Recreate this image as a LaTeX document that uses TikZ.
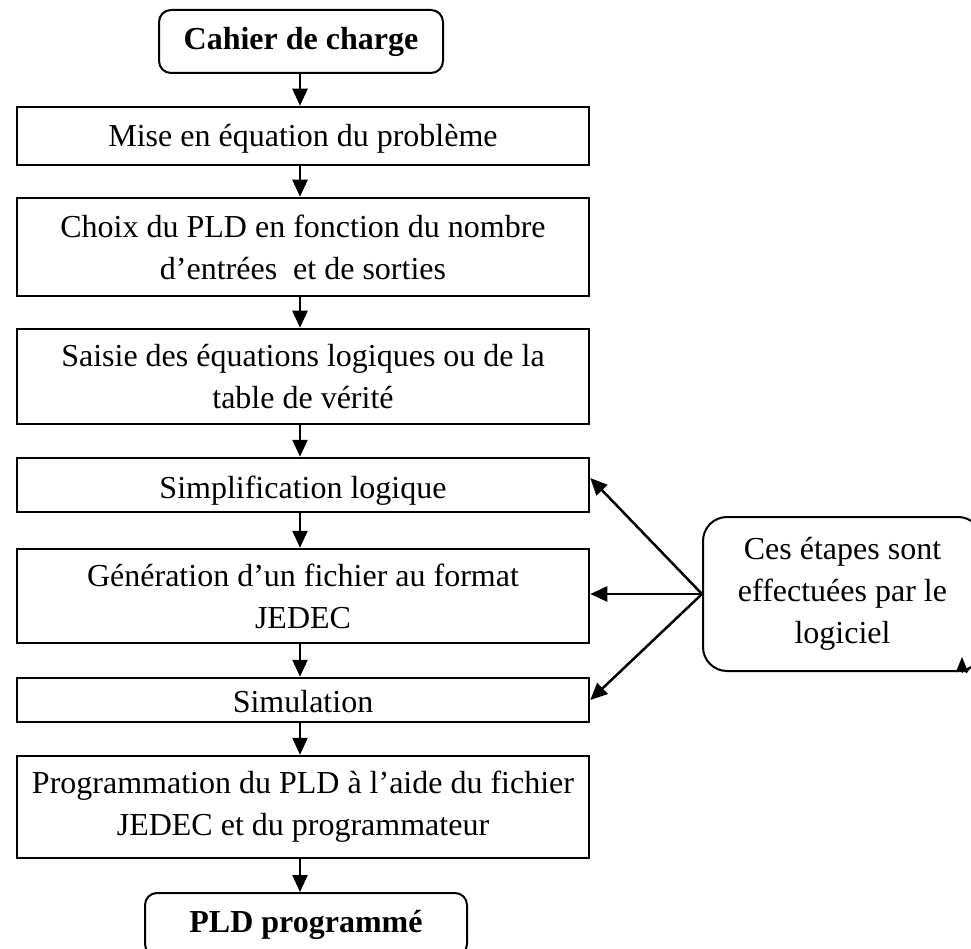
\documentclass[tikz,border=0pt]{standalone}
\usepackage{fontspec}
\setmainfont{Liberation Serif}
\usetikzlibrary{arrows.meta}
\begin{document}
\begin{tikzpicture}[x=1pt,y=-1pt,
  every node/.style={font=\fontsize{32}{42}\selectfont, inner sep=0pt, align=center},
  stepbox/.style={draw, line width=2.5pt, minimum width=572pt},
  oneline/.style={text height=#1, text depth=0pt},
  endbox/.style={draw, line width=2pt, rounded corners=12pt, minimum height=63pt,
                 font=\fontsize{32}{42}\selectfont\bfseries},
  notebox/.style={draw, line width=2pt, rounded corners=24pt},
  arr/.style={line width=2.5pt, -{Triangle[width=15pt,length=17pt]}},
]
\useasboundingbox (0,0) rectangle (971,949);
\clip (0,0) rectangle (971,949);

% main chain of steps
\node[endbox, minimum width=284pt] (cahier) at (301,41.5) {Cahier de charge};
\node[stepbox, minimum height=58pt, oneline=22pt] (mise) at (303,136) {Mise en équation du problème};
\node[stepbox, minimum height=98pt] (choix) at (303,247)
  {Choix du PLD en fonction du nombre\\d’entrées\ \ et de sorties};
\node[stepbox, minimum height=95pt] (saisie) at (303,376.5)
  {Saisie des équations logiques ou de la\\table de vérité};
\node[stepbox, minimum height=54pt, oneline=27pt] (simp) at (303,485) {Simplification logique};
\node[stepbox, minimum height=94pt] (gen) at (303,596)
  {Génération d’un fichier au format\\JEDEC};
\node[stepbox, minimum height=44pt, oneline=24pt] (simu) at (303,700) {Simulation};
\node[stepbox, minimum height=102pt] (prog) at (303,807)
  {Programmation du PLD à l’aide du fichier\\JEDEC et du programmateur};
\node[endbox, minimum width=322pt] (pld) at (306,924.5) {PLD programmé};

% side note
\node[notebox, minimum width=279pt, minimum height=154pt] (soft) at (842.5,594)
  {Ces étapes sont\\effectuées par le\\logiciel};

% vertical connectors
\coordinate (ax) at (300,0);
\draw[arr] (cahier.south -| ax) -- (mise.north -| ax);
\draw[arr] (mise.south -| ax) -- (choix.north -| ax);
\draw[arr] (choix.south -| ax) -- (saisie.north -| ax);
\draw[arr] (saisie.south -| ax) -- (simp.north -| ax);
\draw[arr] (simp.south -| ax) -- (gen.north -| ax);
\draw[arr] (gen.south -| ax) -- (simu.north -| ax);
\draw[arr] (simu.south -| ax) -- (prog.north -| ax);
\draw[arr] (prog.south -| ax) -- (pld.north -| ax);

% connectors from the side note
\draw[arr] (soft.west) -- ([yshift=7pt]simp.east);
\draw[arr] (soft.west) -- (gen.east |- soft.west);
\draw[arr] (soft.west) -- (simu.east);

% small arrow tip on the lower edge of the note
\coordinate (tipbase) at (962,673);
\coordinate (tiptop) at (962,657);
\draw[line width=1pt, -{Triangle[width=12pt,length=15pt]}] (tipbase) -- (tiptop);
\draw[line width=1pt] (tipbase) ++(4,0) -- ++(8,-10);
\end{tikzpicture}
\end{document}
